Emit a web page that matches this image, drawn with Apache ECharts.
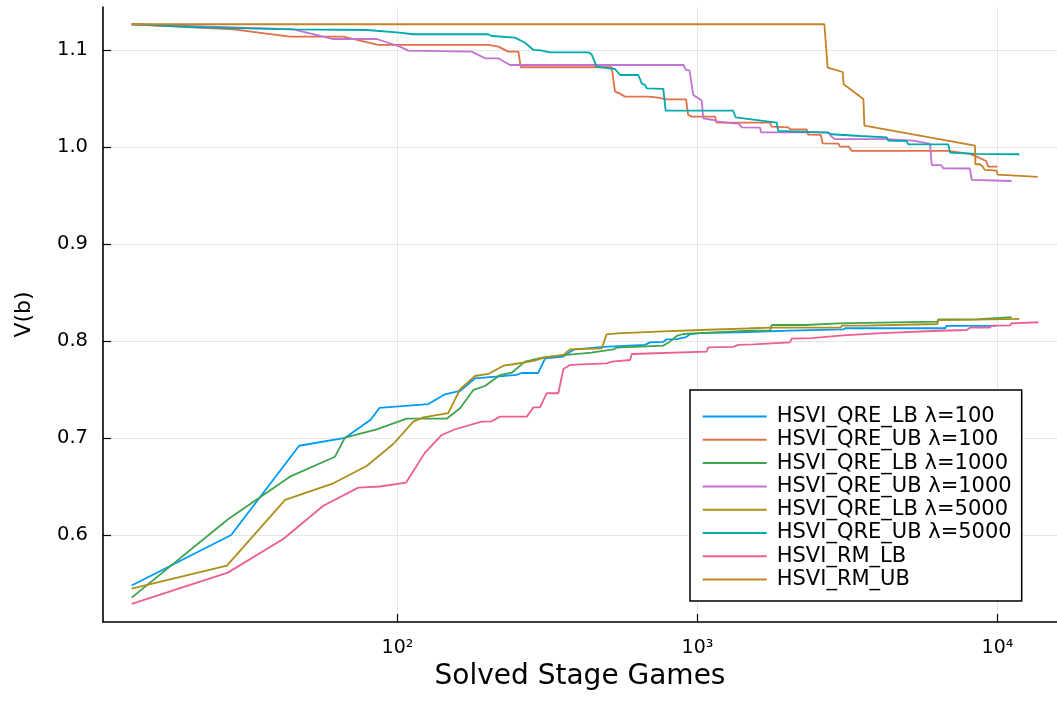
<!DOCTYPE html>
<html>
<head>
<meta charset="utf-8">
<script src="https://cdn.jsdelivr.net/npm/echarts@6/dist/echarts.min.js"></script>
<style>
  html, body { margin: 0; padding: 0; background: #fff; }
  #chart { width: 1057px; height: 702px; }
</style>
</head>
<body>
<div id="chart"></div>
<script>
// Value-function bounds V(b) against the number of solved stage games (log x).
const seriesNames = [
  'HSVI_QRE_LB λ=100', 'HSVI_QRE_UB λ=100',
  'HSVI_QRE_LB λ=1000', 'HSVI_QRE_UB λ=1000',
  'HSVI_QRE_LB λ=5000', 'HSVI_QRE_UB λ=5000',
  'HSVI_RM_LB', 'HSVI_RM_UB'
];
const seriesColors = ['#009AFA', '#E36F47', '#3EA44E', '#C371D2', '#AC8E18', '#00A9AD', '#ED5E93', '#C68225'];

const yTicks = [0.6, 0.7, 0.8, 0.9, 1.0, 1.1];
const xTicks = [100, 1000, 10000];
const xTickLabels = ['10²', '10³', '10⁴'];

// [solved stage games, V(b)]
const qreLb100 = [[13, 0.548], [27.9, 0.600], [47.0, 0.692], [66.8, 0.700], [81.5, 0.719], [87, 0.731],
  [126.7, 0.735], [144, 0.745], [161.6, 0.7485], [181.3, 0.7615], [249.5, 0.765], [259.4, 0.767],
  [294.4, 0.767], [310.5, 0.782], [357.3, 0.784], [385.5, 0.791], [485.3, 0.794], [492, 0.796],
  [668.3, 0.796], [695, 0.7986], [769, 0.799], [789, 0.8017], [853, 0.802], [863, 0.8038],
  [916, 0.804], [944, 0.807], [1019, 0.808], [1387, 0.809], [1403, 0.8106], [2032, 0.8106],
  [2061, 0.812], [3062, 0.812], [3110, 0.8131], [6700, 0.8131], [6760, 0.8155], [9931, 0.8155]];

const qreUb100 = [[13, 1.1265], [28.4, 1.1213], [43.8, 1.1137], [65.9, 1.1137], [86.3, 1.1052],
  [200.8, 1.1052], [216.8, 1.1034], [234, 1.0983], [252.9, 1.0983], [257.6, 1.0822], [517.6, 1.0822],
  [530.9, 1.057], [552, 1.055], [572.8, 1.0519], [685.5, 1.0519], [739.6, 1.0508], [788.9, 1.0491],
  [916, 1.0491], [931, 1.033], [957, 1.0313], [1143, 1.0313], [1159, 1.025], [1746, 1.025],
  [1766, 1.0209], [2009, 1.0203], [2032, 1.0182], [2312, 1.018], [2339, 1.0127], [2576, 1.0124],
  [2612, 1.0038], [2950, 1.0035], [2985, 1.0003], [3200, 1.0003], [3266, 0.9959], [6855, 0.9959],
  [6950, 0.9942], [8091, 0.9928], [8530, 0.990], [9162, 0.9856], [9311, 0.9797], [9977, 0.9797]];

const qreLb1000 = [[13, 0.5354], [27.3, 0.6165], [43.8, 0.6601], [61.9, 0.6807], [66.8, 0.7003],
  [85.3, 0.7089], [107.3, 0.7199], [145.8, 0.7199], [161.6, 0.7306], [179, 0.7495], [195.8, 0.7536],
  [219.6, 0.7649], [240.3, 0.7673], [266.1, 0.7787], [306.2, 0.7832], [366.4, 0.7856], [443.6, 0.788],
  [449.8, 0.790], [523.6, 0.7914], [538.3, 0.7931], [769, 0.7952], [809, 0.7993], [853, 0.8052],
  [897, 0.8072], [1019, 0.808], [1496, 0.8106], [1746, 0.8106], [1766, 0.8165], [2290, 0.8165],
  [2312, 0.8182], [2950, 0.8182], [2985, 0.8199], [6300, 0.8199], [6353, 0.8223], [8450, 0.8223],
  [8530, 0.824], [11140, 0.8245]];

const qreUb1000 = [[13, 1.1265], [45, 1.1213], [61.1, 1.1113], [85.3, 1.1113], [101.9, 1.1034],
  [108.6, 1.0993], [176.6, 1.0983], [195.8, 1.0914], [216.8, 1.0914], [237.1, 1.0845], [897.4, 1.0845],
  [916, 1.0794], [940, 1.079], [968.3, 1.0536], [1033, 1.0478], [1045, 1.0296], [1130, 1.0278],
  [1159, 1.0265], [1315, 1.0244], [1368, 1.0244], [1403, 1.0203], [1616, 1.0199], [1629, 1.0151],
  [2729, 1.0151], [2799, 1.0107], [2871, 1.008], [4275, 1.008], [5239, 1.0065], [5957, 1.0031],
  [6039, 0.9814], [6500, 0.9812], [6595, 0.978], [8091, 0.9778], [8204, 0.966], [11140, 0.9649]];

const qreLb5000 = [[13, 0.5447], [27.0, 0.5684], [42.2, 0.6361], [61.1, 0.6533], [78.9, 0.6711],
  [96.8, 0.6938], [112.9, 0.7168], [121.9, 0.7213], [147.6, 0.7257], [161.6, 0.7502], [181.3, 0.7639],
  [200.8, 0.766], [225.4, 0.7745], [243.2, 0.776], [283.9, 0.7794], [310.5, 0.7832], [357.3, 0.7856],
  [375.8, 0.7914], [479.6, 0.7924], [497.7, 0.8069], [538.3, 0.8079], [731, 0.8096], [1019, 0.8113],
  [1496, 0.8131], [1766, 0.8137], [3000, 0.8137], [3027, 0.8158], [3620, 0.8158], [3664, 0.8175],
  [6300, 0.8175], [6353, 0.8216], [8560, 0.822], [8630, 0.8227], [11830, 0.8227]];

const qreUb5000 = [[13, 1.1265], [21.9, 1.1234], [45, 1.1213], [78.9, 1.1206], [99.4, 1.1182],
  [112.9, 1.1162], [200.8, 1.1162], [206.1, 1.1144], [246.5, 1.1127], [266.1, 1.1075], [283.9, 1.100],
  [300, 1.0995], [322.1, 1.0976], [432.5, 1.0976], [443.6, 1.0955], [461.3, 1.0828], [485.3, 1.0818],
  [530.9, 1.0804], [552.1, 1.0742], [635.3, 1.0742], [651.6, 1.0656], [668.3, 1.0639], [677.6, 1.0605],
  [769.1, 1.0598], [783.4, 1.0374], [1315, 1.0374], [1340, 1.0306], [1837, 1.025], [1858, 1.0165],
  [2716, 1.0148], [2799, 1.0131], [3483, 1.0113], [4275, 1.010], [4325, 1.0065], [4977, 1.006],
  [5043, 1.0027], [6855, 1.0027], [6950, 0.9942], [8530, 0.9928], [11830, 0.9925]];

const rmLb = [[13, 0.5289], [27.2, 0.5612], [41.6, 0.5959], [56.6, 0.6302], [74, 0.6488], [87.4, 0.650],
  [106.7, 0.6539], [123.5, 0.6849], [140.4, 0.7031], [155.5, 0.709], [190.8, 0.7168], [206.1, 0.7172],
  [219.6, 0.722], [269.8, 0.722], [283.9, 0.7316], [298.5, 0.7316], [314.1, 0.7461], [343.6, 0.7461],
  [357.3, 0.7711], [375.8, 0.7753], [497.7, 0.777], [517.6, 0.7787], [595.7, 0.7804], [603.9, 0.7866],
  [1074, 0.789], [1086, 0.7935], [1315, 0.794], [1368, 0.7959], [1535, 0.7966], [2032, 0.7986],
  [2061, 0.8024], [2400, 0.803], [3062, 0.8058], [4111, 0.808], [6109, 0.8103], [7889, 0.8113],
  [8100, 0.8137], [9441, 0.8137], [9550, 0.8158], [11000, 0.816], [11140, 0.8182], [13680, 0.8193]];

const rmUb = [[13, 1.1265], [2648, 1.1265], [2716, 1.0818], [3048, 1.0773], [3070, 1.0646],
  [3573, 1.0495], [3600, 1.022], [8414, 1.0014], [8440, 0.9822], [8750, 0.9822], [8930, 0.9797],
  [9080, 0.9763], [9931, 0.9756], [10010, 0.9715], [13610, 0.9691]];

const allSeries = [qreLb100, qreUb100, qreLb1000, qreUb1000, qreLb5000, qreUb5000, rmLb, rmUb];

const FONT = 'DejaVu Sans';
const chart = echarts.init(document.getElementById('chart'), null, { renderer: 'canvas' });

chart.setOption({
  animation: false,
  backgroundColor: '#ffffff',
  textStyle: { fontFamily: FONT },
  grid: { left: 103, right: 0, top: 7, bottom: 80, containLabel: false },
  xAxis: {
    type: 'log',
    logBase: 10,
    min: 10.43,
    max: 15790,
    name: 'Solved Stage Games',
    nameLocation: 'middle',
    nameGap: 41,
    nameTextStyle: { fontSize: 28, color: '#000', fontFamily: FONT },
    axisLine: { show: true, lineStyle: { color: '#000', width: 1.6 } },
    axisTick: {
      show: true, inside: true, length: 8,
      lineStyle: { color: '#000', width: 1.2 },
      customValues: xTicks
    },
    splitLine: { show: true, lineStyle: { color: '#e6e6e6', width: 1 } },
    minorSplitLine: { show: false },
    axisLabel: {
      customValues: xTicks,
      margin: 17,
      fontSize: 19,
      fontFamily: FONT,
      color: '#000',
      formatter: function (v) {
        return xTickLabels[xTicks.indexOf(Math.round(v))] || '';
      }
    }
  },
  yAxis: {
    type: 'value',
    min: 0.5103,
    max: 1.1443,
    name: 'V(b)',
    nameLocation: 'middle',
    nameGap: 68,
    nameRotate: 90,
    nameTextStyle: { fontSize: 22, color: '#000', fontFamily: FONT },
    axisLine: { show: true, lineStyle: { color: '#000', width: 1.6 } },
    axisTick: {
      show: true, inside: true, length: 8,
      lineStyle: { color: '#000', width: 1.2 },
      customValues: yTicks
    },
    splitLine: { show: true, lineStyle: { color: '#e6e6e6', width: 1 } },
    axisLabel: {
      customValues: yTicks,
      margin: 15,
      fontSize: 19.5,
      color: '#000',
      fontFamily: FONT,
      formatter: function (v) { return v.toFixed(1); }
    }
  },
  legend: {
    orient: 'vertical',
    left: 690,
    top: 390,
    padding: [16, 10, 11, 11.7],
    itemWidth: 64,
    itemHeight: 14,
    itemGap: 2.3,
    backgroundColor: '#ffffff',
    borderColor: '#000',
    borderWidth: 1.5,
    borderRadius: 0,
    itemStyle: { opacity: 0 },
    textStyle: { fontSize: 21, color: '#000', fontFamily: FONT, padding: [0, 0, 0, 5] },
    data: seriesNames
  },
  series: allSeries.map(function (pts, i) {
    return {
      name: seriesNames[i],
      type: 'line',
      data: pts,
      symbol: 'none',
      showSymbol: false,
      smooth: false,
      color: seriesColors[i],
      lineStyle: { color: seriesColors[i], width: 1.8 },
      z: 2 + i
    };
  })
});
</script>
</body>
</html>
